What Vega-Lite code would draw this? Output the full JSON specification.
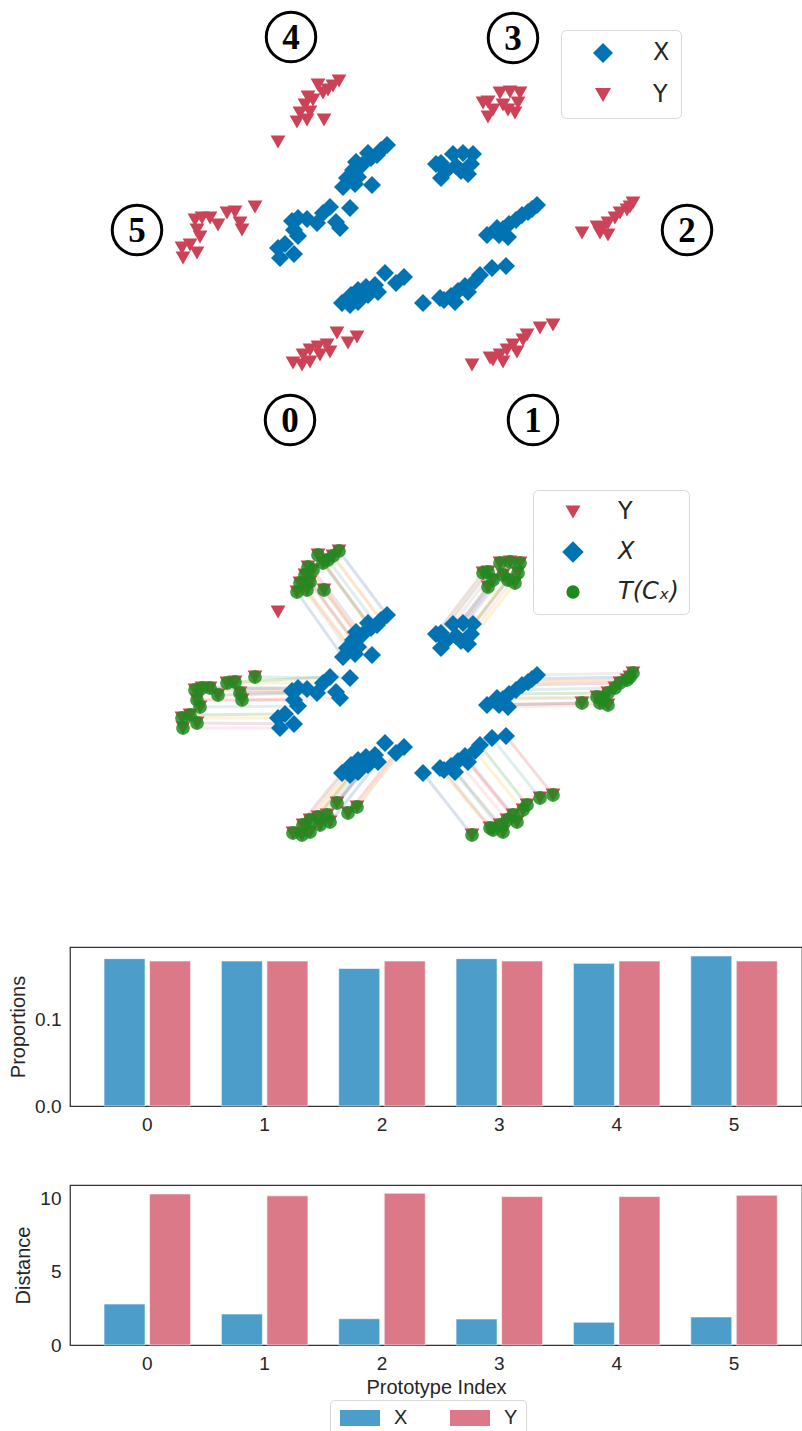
{
  "$schema": "https://vega.github.io/schema/vega-lite/v6.json",
  "background": "white",
  "padding": {"left": 7, "top": 0, "right": 0, "bottom": 0},
  "spacing": 79,
  "bounds": "flush",
  "config": {
    "font": "Liberation Sans",
    "view": {"stroke": "#333333", "strokeWidth": 1.25},
    "axis": {"grid": false, "domain": false, "ticks": false, "tickSize": 0, "labelFont": "Liberation Sans", "labelFontSize": 19, "labelColor": "#262626", "titleFont": "Liberation Sans", "titleFontSize": 20, "titleFontWeight": "normal", "titleColor": "#262626"}
  },
  "datasets": {
    "Xpts": [
      {"k":4,"c":0,"x":-4.9,"y":8.0,"tx":-9.7,"ty":14.4},
      {"k":4,"c":1,"x":-5.5,"y":7.5,"tx":-10.3,"ty":13.9},
      {"k":4,"c":2,"x":-6.8,"y":7.2,"tx":-11.8,"ty":14.0},
      {"k":4,"c":3,"x":-5.9,"y":7.0,"tx":-10.8,"ty":13.5},
      {"k":4,"c":4,"x":-6.5,"y":6.7,"tx":-11.3,"ty":13.2},
      {"k":4,"c":5,"x":-8.0,"y":6.3,"tx":-12.8,"ty":12.8},
      {"k":4,"c":6,"x":-7.4,"y":6.0,"tx":-12.3,"ty":12.5},
      {"k":4,"c":7,"x":-8.3,"y":5.5,"tx":-13.1,"ty":12.0},
      {"k":4,"c":8,"x":-7.8,"y":4.8,"tx":-12.6,"ty":11.3},
      {"k":4,"c":9,"x":-8.9,"y":4.7,"tx":-13.6,"ty":11.2},
      {"k":4,"c":0,"x":-9.3,"y":3.8,"tx":-13.9,"ty":10.3},
      {"k":4,"c":1,"x":-8.1,"y":4.1,"tx":-12.9,"ty":10.5},
      {"k":4,"c":2,"x":-6.4,"y":4.0,"tx":-11.2,"ty":10.5},
      {"k":5,"c":3,"x":-8.6,"y":1.7,"tx":-18.1,"ty":1.8},
      {"k":5,"c":4,"x":-10.6,"y":1.8,"tx":-20.1,"ty":1.3},
      {"k":5,"c":5,"x":-11.3,"y":1.2,"tx":-20.9,"ty":1.2},
      {"k":5,"c":6,"x":-10.0,"y":0.3,"tx":-19.6,"ty":0.2},
      {"k":5,"c":7,"x":-9.6,"y":-0.3,"tx":-19.4,"ty":-0.5},
      {"k":5,"c":8,"x":-11.9,"y":0.2,"tx":-21.8,"ty":0.0},
      {"k":5,"c":9,"x":-12.9,"y":0.6,"tx":-22.6,"ty":0.7},
      {"k":5,"c":0,"x":-13.8,"y":0.7,"tx":-23.4,"ty":0.7},
      {"k":5,"c":1,"x":-14.4,"y":0.4,"tx":-24.1,"ty":0.5},
      {"k":5,"c":2,"x":-14.2,"y":-0.5,"tx":-23.9,"ty":-0.5},
      {"k":5,"c":3,"x":-13.8,"y":-1.1,"tx":-23.6,"ty":-1.2},
      {"k":5,"c":4,"x":-15.1,"y":-1.9,"tx":-24.6,"ty":-2.0},
      {"k":5,"c":5,"x":-15.8,"y":-2.3,"tx":-25.4,"ty":-2.3},
      {"k":5,"c":6,"x":-14.2,"y":-2.9,"tx":-23.9,"ty":-2.8},
      {"k":5,"c":7,"x":-15.6,"y":-3.3,"tx":-25.3,"ty":-3.3},
      {"k":3,"c":8,"x":0.5,"y":6.2,"tx":5.2,"ty":12.3},
      {"k":3,"c":9,"x":1.7,"y":7.1,"tx":6.4,"ty":13.2},
      {"k":3,"c":0,"x":2.7,"y":7.2,"tx":7.4,"ty":13.3},
      {"k":3,"c":1,"x":3.7,"y":7.1,"tx":8.4,"ty":13.2},
      {"k":3,"c":2,"x":1.0,"y":5.4,"tx":5.7,"ty":11.5},
      {"k":3,"c":3,"x":0.5,"y":4.7,"tx":5.2,"ty":10.8},
      {"k":3,"c":4,"x":2.5,"y":5.4,"tx":7.2,"ty":11.5},
      {"k":3,"c":5,"x":3.2,"y":5.1,"tx":7.9,"ty":11.2},
      {"k":3,"c":6,"x":2.0,"y":5.9,"tx":6.7,"ty":12.0},
      {"k":3,"c":7,"x":3.5,"y":6.1,"tx":8.2,"ty":12.2},
      {"k":3,"c":8,"x":0.0,"y":6.1,"tx":4.7,"ty":12.2},
      {"k":2,"c":9,"x":10.1,"y":2.0,"tx":19.7,"ty":2.2},
      {"k":2,"c":0,"x":9.6,"y":1.6,"tx":19.4,"ty":1.8},
      {"k":2,"c":1,"x":9.2,"y":1.3,"tx":19.1,"ty":1.5},
      {"k":2,"c":2,"x":8.6,"y":1.0,"tx":18.4,"ty":1.2},
      {"k":2,"c":3,"x":8.0,"y":0.5,"tx":17.9,"ty":0.7},
      {"k":2,"c":4,"x":7.3,"y":0.1,"tx":17.2,"ty":0.2},
      {"k":2,"c":5,"x":6.7,"y":-0.4,"tx":16.7,"ty":-0.3},
      {"k":2,"c":6,"x":6.3,"y":-1.0,"tx":16.4,"ty":-0.8},
      {"k":2,"c":7,"x":7.2,"y":-1.2,"tx":17.2,"ty":-1.0},
      {"k":2,"c":8,"x":5.1,"y":-1.0,"tx":14.6,"ty":-0.8},
      {"k":2,"c":9,"x":6.1,"y":-0.3,"tx":16.1,"ty":-0.2},
      {"k":0,"c":0,"x":-5.1,"y":-4.8,"tx":-9.9,"ty":-10.8},
      {"k":0,"c":1,"x":-3.2,"y":-5.2,"tx":-7.9,"ty":-11.2},
      {"k":0,"c":2,"x":-4.0,"y":-5.8,"tx":-8.8,"ty":-11.8},
      {"k":0,"c":3,"x":-6.1,"y":-6.0,"tx":-10.9,"ty":-12.0},
      {"k":0,"c":4,"x":-7.0,"y":-6.2,"tx":-11.8,"ty":-12.2},
      {"k":0,"c":5,"x":-7.8,"y":-6.5,"tx":-12.6,"ty":-12.5},
      {"k":0,"c":6,"x":-6.8,"y":-7.0,"tx":-11.6,"ty":-13.0},
      {"k":0,"c":7,"x":-8.5,"y":-7.0,"tx":-13.3,"ty":-13.0},
      {"k":0,"c":8,"x":-9.4,"y":-7.8,"tx":-14.3,"ty":-13.8},
      {"k":0,"c":9,"x":-7.8,"y":-7.7,"tx":-12.6,"ty":-13.7},
      {"k":0,"c":0,"x":-5.8,"y":-6.7,"tx":-10.6,"ty":-12.7},
      {"k":0,"c":1,"x":-8.6,"y":-8.0,"tx":-13.4,"ty":-14.0},
      {"k":1,"c":2,"x":7.0,"y":-4.1,"tx":11.7,"ty":-10.0},
      {"k":1,"c":3,"x":5.6,"y":-4.3,"tx":10.4,"ty":-10.3},
      {"k":1,"c":4,"x":4.4,"y":-5.0,"tx":9.1,"ty":-11.0},
      {"k":1,"c":5,"x":3.9,"y":-5.6,"tx":8.7,"ty":-11.5},
      {"k":1,"c":6,"x":2.9,"y":-6.1,"tx":7.7,"ty":-12.0},
      {"k":1,"c":7,"x":2.2,"y":-6.6,"tx":7.1,"ty":-12.5},
      {"k":1,"c":8,"x":1.5,"y":-7.1,"tx":6.4,"ty":-13.0},
      {"k":1,"c":9,"x":0.8,"y":-7.5,"tx":5.7,"ty":-13.5},
      {"k":1,"c":0,"x":-1.3,"y":-7.8,"tx":3.6,"ty":-14.0},
      {"k":1,"c":1,"x":0.4,"y":-7.3,"tx":5.4,"ty":-13.3},
      {"k":1,"c":2,"x":3.2,"y":-6.7,"tx":8.1,"ty":-12.7},
      {"k":1,"c":3,"x":1.9,"y":-7.7,"tx":6.7,"ty":-13.7}
    ],
    "Ypts": [
      {"k":4,"x":-9.7,"y":14.4},{"k":4,"x":-10.3,"y":13.9},{"k":4,"x":-11.8,"y":14.0},{"k":4,"x":-10.8,"y":13.5},
      {"k":4,"x":-11.3,"y":13.2},{"k":4,"x":-12.8,"y":12.8},{"k":4,"x":-12.3,"y":12.5},{"k":4,"x":-13.1,"y":12.0},
      {"k":4,"x":-12.6,"y":11.3},{"k":4,"x":-13.6,"y":11.2},{"k":4,"x":-13.9,"y":10.3},{"k":4,"x":-12.9,"y":10.5},
      {"k":4,"x":-11.2,"y":10.5},{"k":4,"x":-15.8,"y":8.3},
      {"k":5,"x":-18.1,"y":1.8},{"k":5,"x":-20.1,"y":1.3},{"k":5,"x":-20.9,"y":1.2},{"k":5,"x":-19.6,"y":0.2},
      {"k":5,"x":-19.4,"y":-0.5},{"k":5,"x":-21.8,"y":0.0},{"k":5,"x":-22.6,"y":0.7},{"k":5,"x":-23.4,"y":0.7},
      {"k":5,"x":-24.1,"y":0.5},{"k":5,"x":-23.9,"y":-0.5},{"k":5,"x":-23.6,"y":-1.2},{"k":5,"x":-24.6,"y":-2.0},
      {"k":5,"x":-25.4,"y":-2.3},{"k":5,"x":-23.9,"y":-2.8},{"k":5,"x":-25.3,"y":-3.3},
      {"k":3,"x":5.2,"y":12.3},{"k":3,"x":6.4,"y":13.2},{"k":3,"x":7.4,"y":13.3},{"k":3,"x":8.4,"y":13.2},
      {"k":3,"x":5.7,"y":11.5},{"k":3,"x":5.2,"y":10.8},{"k":3,"x":7.2,"y":11.5},{"k":3,"x":7.9,"y":11.2},
      {"k":3,"x":6.7,"y":12.0},{"k":3,"x":8.2,"y":12.2},{"k":3,"x":4.7,"y":12.2},
      {"k":2,"x":19.7,"y":2.2},{"k":2,"x":19.4,"y":1.8},{"k":2,"x":19.1,"y":1.5},{"k":2,"x":18.4,"y":1.2},
      {"k":2,"x":17.9,"y":0.7},{"k":2,"x":17.2,"y":0.2},{"k":2,"x":16.7,"y":-0.3},{"k":2,"x":16.4,"y":-0.8},
      {"k":2,"x":17.2,"y":-1.0},{"k":2,"x":14.6,"y":-0.8},{"k":2,"x":16.1,"y":-0.2},
      {"k":0,"x":-9.9,"y":-10.8},{"k":0,"x":-7.9,"y":-11.2},{"k":0,"x":-8.8,"y":-11.8},{"k":0,"x":-10.9,"y":-12.0},
      {"k":0,"x":-11.8,"y":-12.2},{"k":0,"x":-12.6,"y":-12.5},{"k":0,"x":-11.6,"y":-13.0},{"k":0,"x":-13.3,"y":-13.0},
      {"k":0,"x":-14.3,"y":-13.8},{"k":0,"x":-12.6,"y":-13.7},{"k":0,"x":-10.6,"y":-12.7},{"k":0,"x":-13.4,"y":-14.0},
      {"k":1,"x":11.7,"y":-10.0},{"k":1,"x":10.4,"y":-10.3},{"k":1,"x":9.1,"y":-11.0},{"k":1,"x":8.7,"y":-11.5},
      {"k":1,"x":7.7,"y":-12.0},{"k":1,"x":7.1,"y":-12.5},{"k":1,"x":6.4,"y":-13.0},{"k":1,"x":5.7,"y":-13.5},
      {"k":1,"x":3.6,"y":-14.0},{"k":1,"x":5.4,"y":-13.3},{"k":1,"x":8.1,"y":-12.7},{"k":1,"x":6.7,"y":-13.7}
    ],
    "labels": [
      {"lab":"4","x":-14.5,"y":18.8},
      {"lab":"3","x":7.7,"y":18.7},
      {"lab":"5","x":-29.9,"y":-0.5},
      {"lab":"2","x":25.1,"y":-0.5},
      {"lab":"0","x":-14.6,"y":-19.5},
      {"lab":"1","x":9.7,"y":-19.5}
    ],
    "bars": [
      {"p":0,"s":"X","prop":0.1694,"dist":2.79},
      {"p":0,"s":"Y","prop":0.1667,"dist":10.29},
      {"p":1,"s":"X","prop":0.1667,"dist":2.11},
      {"p":1,"s":"Y","prop":0.1667,"dist":10.16},
      {"p":2,"s":"X","prop":0.1582,"dist":1.79},
      {"p":2,"s":"Y","prop":0.1667,"dist":10.34},
      {"p":3,"s":"X","prop":0.1694,"dist":1.77},
      {"p":3,"s":"Y","prop":0.1667,"dist":10.11},
      {"p":4,"s":"X","prop":0.1640,"dist":1.55},
      {"p":4,"s":"Y","prop":0.1667,"dist":10.11},
      {"p":5,"s":"X","prop":0.1725,"dist":1.91},
      {"p":5,"s":"Y","prop":0.1667,"dist":10.2}
    ]
  },
  "resolve": {
    "scale": {"color": "independent", "shape": "independent", "stroke": "independent", "x": "independent", "y": "independent", "xOffset": "independent"},
    "legend": {"color": "independent", "shape": "independent"}
  },
  "vconcat": [
    {
      "width": 732,
      "height": 391,
      "view": {"stroke": null},
      "layer": [
        {
          "data": {"name": "Ypts"},
          "mark": {"type": "point", "filled": true, "opacity": 1, "size": 220},
          "encoding": {
            "x": {"field": "x", "type": "quantitative", "scale": {"domain": [-36.6, 36.6], "nice": false, "zero": false}, "axis": null},
            "y": {"field": "y", "type": "quantitative", "scale": {"domain": [-16.6, 22.5], "nice": false, "zero": false}, "axis": null},
            "color": {"datum": "Y", "scale": {"domain": ["X", "Y"], "range": ["#0173b2", "#cc4257"]},
              "legend": {"title": null, "orient": "none", "legendX": 491, "legendY": 30, "padding": 11, "rowPadding": 18, "symbolOffset": 19, "labelOffset": 38, "labelFont": "DejaVu Sans", "labelFontSize": 24, "labelColor": "#262626", "fillColor": "white", "strokeColor": "#d9d9d9", "cornerRadius": 5, "symbolSize": {"expr": "datum.value === 'X' ? 400 : 256"}, "symbolStrokeWidth": 0}},
            "shape": {"datum": "Y", "scale": {"domain": ["X", "Y"], "range": ["diamond", "triangle-down"]},
              "legend": {"title": null, "orient": "none", "legendX": 491, "legendY": 30, "padding": 11, "rowPadding": 18, "symbolOffset": 19, "labelOffset": 38, "labelFont": "DejaVu Sans", "labelFontSize": 24, "labelColor": "#262626", "fillColor": "white", "strokeColor": "#d9d9d9", "cornerRadius": 5, "symbolSize": {"expr": "datum.value === 'X' ? 400 : 256"}, "symbolStrokeWidth": 0}}
          }
        },
        {
          "data": {"name": "Xpts"},
          "mark": {"type": "point", "filled": true, "opacity": 1, "size": 324},
          "encoding": {
            "x": {"field": "x", "type": "quantitative"},
            "y": {"field": "y", "type": "quantitative"},
            "color": {"datum": "X"},
            "shape": {"datum": "X"}
          }
        },
        {
          "data": {"name": "labels"},
          "mark": {"type": "point", "shape": "circle", "filled": false, "stroke": "black", "strokeWidth": 3, "size": 2450, "opacity": 1},
          "encoding": {
            "x": {"field": "x", "type": "quantitative"},
            "y": {"field": "y", "type": "quantitative"}
          }
        },
        {
          "data": {"name": "labels"},
          "mark": {"type": "text", "font": "Liberation Serif", "fontWeight": "bold", "fontSize": 35, "color": "black", "baseline": "middle", "align": "center", "dy": 1},
          "encoding": {
            "x": {"field": "x", "type": "quantitative"},
            "y": {"field": "y", "type": "quantitative"},
            "text": {"field": "lab", "type": "nominal"}
          }
        }
      ]
    },
    {
      "width": 732,
      "height": 398,
      "view": {"stroke": null},
      "layer": [
        {
          "data": {"name": "Xpts"},
          "mark": {"type": "rule", "strokeWidth": 3, "opacity": 0.22},
          "encoding": {
            "x": {"field": "x", "type": "quantitative", "scale": {"domain": [-36.6, 36.6], "nice": false, "zero": false}, "axis": null},
            "y": {"field": "y", "type": "quantitative", "scale": {"domain": [-17.3, 22.5], "nice": false, "zero": false}, "axis": null},
            "x2": {"field": "tx"},
            "y2": {"field": "ty"},
            "stroke": {"field": "c", "type": "nominal", "scale": {"scheme": "tableau10"}, "legend": null}
          }
        },
        {
          "data": {"name": "Xpts"},
          "mark": {"type": "point", "filled": true, "opacity": 1, "size": 324},
          "encoding": {
            "x": {"field": "x", "type": "quantitative"},
            "y": {"field": "y", "type": "quantitative"},
            "color": {"datum": "X", "scale": {"domain": ["Y", "X", "T(Cₓ)"], "range": ["#cc4257", "#0173b2", "#1f8b1f"]},
              "legend": {"title": null, "orient": "none", "legendX": 463, "legendY": 20, "padding": 10, "rowPadding": 16, "symbolOffset": 18, "labelOffset": 33, "labelFont": "DejaVu Sans", "labelFontSize": 24, "labelColor": "#262626", "labelFontStyle": {"expr": "datum.value === 'Y' ? 'normal' : 'italic'"}, "fillColor": "white", "strokeColor": "#d9d9d9", "cornerRadius": 5, "symbolSize": {"expr": "datum.value === 'X' ? 460 : datum.value === 'Y' ? 225 : 177"}, "symbolStrokeWidth": 0}},
            "shape": {"datum": "X", "scale": {"domain": ["Y", "X", "T(Cₓ)"], "range": ["triangle-down", "diamond", "circle"]},
              "legend": {"title": null, "orient": "none", "legendX": 463, "legendY": 20, "padding": 10, "rowPadding": 16, "symbolOffset": 18, "labelOffset": 33, "labelFont": "DejaVu Sans", "labelFontSize": 24, "labelColor": "#262626", "labelFontStyle": {"expr": "datum.value === 'Y' ? 'normal' : 'italic'"}, "fillColor": "white", "strokeColor": "#d9d9d9", "cornerRadius": 5, "symbolSize": {"expr": "datum.value === 'X' ? 460 : datum.value === 'Y' ? 225 : 177"}, "symbolStrokeWidth": 0}}
          }
        },
        {
          "data": {"name": "Ypts"},
          "mark": {"type": "point", "filled": true, "opacity": 1, "size": 220},
          "encoding": {
            "x": {"field": "x", "type": "quantitative"},
            "y": {"field": "y", "type": "quantitative"},
            "color": {"datum": "Y"},
            "shape": {"datum": "Y"}
          }
        },
        {
          "data": {"name": "Xpts"},
          "mark": {"type": "point", "filled": true, "opacity": 0.85, "size": 190},
          "encoding": {
            "x": {"field": "tx", "type": "quantitative"},
            "y": {"field": "ty", "type": "quantitative"},
            "color": {"datum": "T(Cₓ)"},
            "shape": {"datum": "T(Cₓ)"}
          }
        }
      ]
    },
    {
      "width": 732,
      "height": 159,
      "data": {"name": "bars"},
      "mark": {"type": "bar", "stroke": "white", "strokeWidth": 1, "strokeOpacity": 0.6},
      "encoding": {
        "x": {"field": "p", "type": "ordinal", "scale": {"paddingInner": 0, "paddingOuter": 0.119, "align": 0.667}, "axis": {"title": null, "labelAngle": 0, "labelPadding": 9}},
        "xOffset": {"field": "s", "type": "nominal", "scale": {"paddingInner": 0.099, "paddingOuter": 0.338}},
        "y": {"field": "prop", "type": "quantitative", "scale": {"domain": [0, 0.1828], "nice": false}, "axis": {"values": [0, 0.1], "format": ".1f", "title": "Proportions", "labelPadding": 9, "titlePadding": 6}},
        "color": {"field": "s", "type": "nominal", "scale": {"domain": ["X", "Y"], "range": ["#4c9dc9", "#db7988"]}, "legend": null}
      }
    },
    {
      "width": 732,
      "height": 160,
      "data": {"name": "bars"},
      "mark": {"type": "bar", "stroke": "white", "strokeWidth": 1, "strokeOpacity": 0.6},
      "encoding": {
        "x": {"field": "p", "type": "ordinal", "scale": {"paddingInner": 0, "paddingOuter": 0.119, "align": 0.667}, "axis": {"title": "Prototype Index", "labelAngle": 0, "labelPadding": 9, "titlePadding": 4}},
        "xOffset": {"field": "s", "type": "nominal", "scale": {"paddingInner": 0.099, "paddingOuter": 0.338}},
        "y": {"field": "dist", "type": "quantitative", "scale": {"domain": [0, 10.9], "nice": false}, "axis": {"values": [0, 5, 10], "title": "Distance", "labelPadding": 9, "titlePadding": 6}},
        "color": {"field": "s", "type": "nominal", "scale": {"domain": ["X", "Y"], "range": ["#4c9dc9", "#db7988"]},
          "legend": {"title": null, "orient": "none", "legendX": 260, "legendY": 215, "direction": "horizontal", "padding": 8, "symbolType": "M-2.5,-1H2.5V1H-2.5Z", "symbolSize": 256, "symbolOffset": 12, "symbolStrokeWidth": 0, "labelFontSize": 20, "labelFont": "Liberation Sans", "labelColor": "#262626", "labelOffset": 24, "columnPadding": 40, "fillColor": "white", "strokeColor": "#d9d9d9", "cornerRadius": 4}}
      }
    }
  ]
}
